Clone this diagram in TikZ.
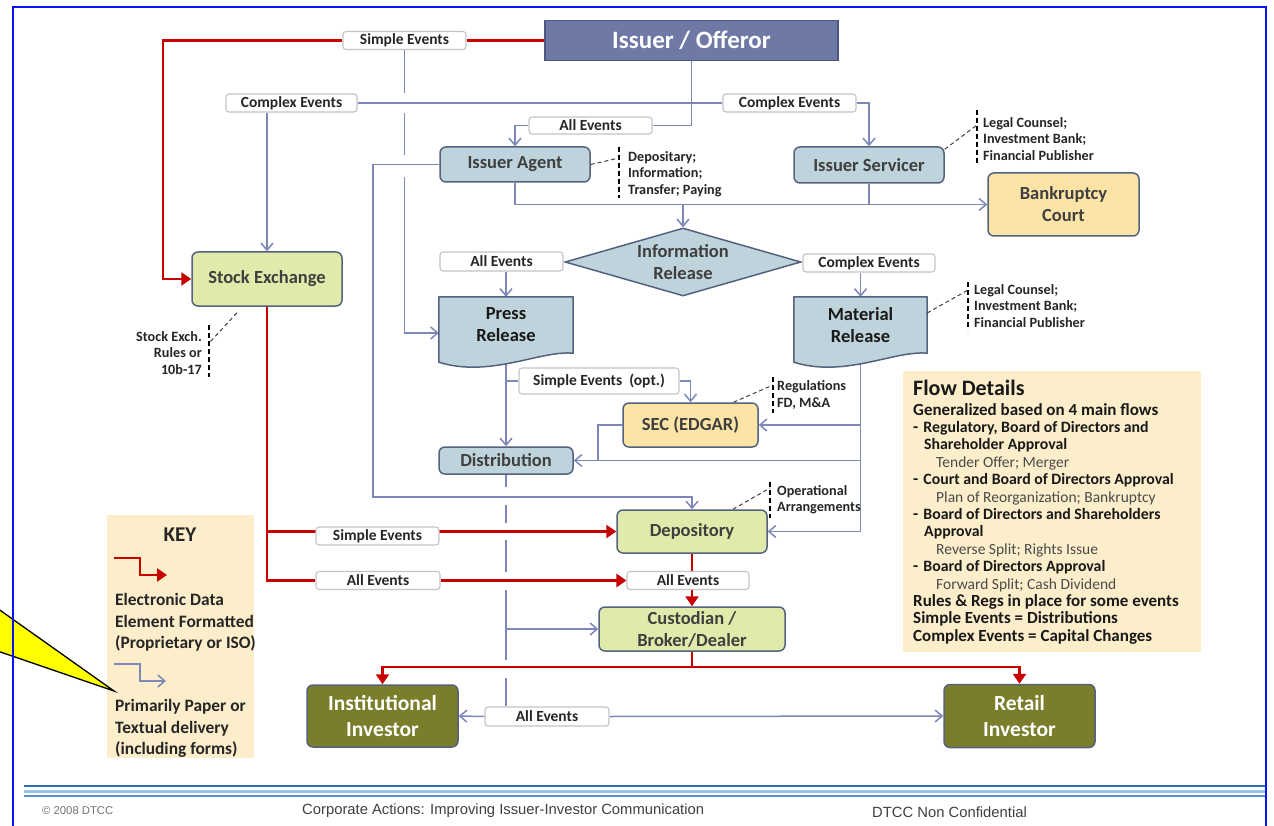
\documentclass[tikz,border=0pt]{standalone}
\usepackage{fontspec}
\setmainfont{Carlito}
\newfontfamily\footerfont{Liberation Sans}
\usetikzlibrary{arrows.meta,shapes.geometric,calc}
\newcommand\setfs[2]{\fontsize{#1}{#2}\selectfont}

\definecolor{issuerfill}{HTML}{6E79A6}
\definecolor{issuerdraw}{HTML}{4B5684}
\definecolor{paleblue}{HTML}{BED3DB}
\definecolor{palegreen}{HTML}{E2EAAB}
\definecolor{paleyellow}{HTML}{FBE4A6}
\definecolor{investorfill}{HTML}{7A7E2B}
\definecolor{boxdraw}{HTML}{55627F}
\definecolor{wireblue}{HTML}{7D87B9}
\definecolor{wirered}{HTML}{C80000}
\definecolor{panelfill}{HTML}{FDEECB}
\definecolor{labeldraw}{HTML}{C4C4C4}
\definecolor{txtgray}{HTML}{3F3F3F}
\definecolor{subgray}{HTML}{4A4A4A}
\definecolor{frameblue}{HTML}{0A14F0}
\definecolor{footdark}{HTML}{2E6DB4}
\definecolor{footlight}{HTML}{9CC2E5}
\definecolor{footmid}{HTML}{5B8FD0}
\definecolor{calloutyellow}{HTML}{FFFF00}

\pgfdeclarelayer{lowest}
\pgfdeclarelayer{gaps}
\pgfdeclarelayer{wires}
\pgfdeclarelayer{shapes}
\pgfsetlayers{lowest,gaps,wires,shapes,main}

\tikzset{
  flowbox/.style={draw=boxdraw, line width=1.5pt, rounded corners=6pt, align=center,
    inner sep=0pt, text=txtgray, font=\bfseries\setfs{18.5}{22}},
  bluebox/.style={flowbox, fill=paleblue},
  greenbox/.style={flowbox, fill=palegreen},
  yellowbox/.style={flowbox, fill=paleyellow},
  investor/.style={flowbox, fill=investorfill, text=white, font=\bfseries\setfs{21.5}{26}},
  docnode/.style={inner sep=0pt, align=center, text=black!90, font=\bfseries\setfs{18.5}{22}},
  docshape/.style={draw=boxdraw, line width=1.5pt, fill=paleblue, line join=round},
  tag/.style={draw=labeldraw, fill=white, line width=1.1pt, rounded corners=3pt,
    inner sep=0pt, text=black!85, font=\bfseries\setfs{15.5}{17}},
  remark/.style={inner sep=0pt, align=left, text=black!85, font=\bfseries\setfs{14.2}{16.5}},
  bracket/.style={black, line width=1.3pt, dash pattern=on 5pt off 3pt},
  notelink/.style={black!75, line width=1pt, dash pattern=on 4pt off 3pt},
  wire/.style={wireblue, line width=1.5pt},
  parrow/.style={wire, -{Straight Barb[length=7pt,width=12pt]}},
  eline/.style={wirered, line width=2.8pt},
  earrow/.style={eline, -{Triangle[length=10pt,width=13pt]}},
  panel/.style={fill=panelfill, inner sep=0pt},
}
% one bullet of the flow list, and the lighter example line under it
\newcommand\flowitem[1]{-\hspace*{5pt}{\setfs{15.8}{17.4}#1}}
\newcommand\flowcont[1]{\hspace*{11pt}{\setfs{15.8}{17.4}#1}}
\newcommand\flowsub[1]{\hspace*{23pt}{\mdseries\setfs{15.5}{17.4}\color{subgray}#1}}

\begin{document}
\begin{tikzpicture}[x=1pt,y=-1pt]
\useasboundingbox (0,0) rectangle (1274,826);
\begin{pgfonlayer}{lowest}
  \fill[white] (0,0) rectangle (1274,826);
\end{pgfonlayer}

% ---------- main boxes ----------
\node[draw=issuerdraw, fill=issuerfill, line width=1.5pt, minimum width=293pt, minimum height=40pt,
      inner sep=0pt, text=white, font=\bfseries\setfs{25}{28}] (issuer) at (691.5,40.5) {Issuer / Offeror};
\node[bluebox, minimum width=150pt, minimum height=35pt] (agent) at (515,164.5) {Issuer Agent};
\node[bluebox, minimum width=150pt, minimum height=36pt] (servicer) at (869,165) {Issuer Servicer};
\node[yellowbox, minimum width=151pt, minimum height=63pt] (court) at (1063.5,204.5) {Bankruptcy\\Court};
\node[flowbox, fill=paleblue, shape=diamond, aspect=3.5, sharp corners,
      minimum width=236pt, minimum height=68pt] (info) at (683,262) {Information\\Release};
\node[docnode, minimum width=134pt, minimum height=56pt] (press) at (506,325) {Press\\Release};
\node[docnode, minimum width=133pt, minimum height=56pt] (material) at (860.5,325) {Material\\Release};
\node[yellowbox, minimum width=135pt, minimum height=44pt] (sec) at (690.5,425) {SEC (EDGAR)};
\node[bluebox, minimum width=134pt, minimum height=27pt] (distrib) at (506,460.5) {Distribution};
\node[greenbox, minimum width=150pt, minimum height=43pt] (depository) at (692,531.5) {Depository};
\node[greenbox, minimum width=150pt, minimum height=54pt] (stock) at (267,279) {Stock Exchange};
\node[greenbox, minimum width=186pt, minimum height=44pt] (custodian) at (692,629) {Custodian /\\Broker/Dealer};
\node[investor, minimum width=151pt, minimum height=62pt] (inst) at (382.5,716) {Institutional\\Investor};
\node[investor, minimum width=151pt, minimum height=63pt] (retail) at (1019.5,716) {Retail\\Investor};

% document shapes for the two release boxes
\begin{pgfonlayer}{shapes}
  \foreach \d in {press,material}
    \draw[docshape] (\d.north west) -- (\d.north east) -- (\d.south east)
      .. controls +(-33,-3) and +(51,16) .. ([yshift=-9pt]\d.south west) -- cycle;
\end{pgfonlayer}

% ---------- event labels ----------
\node[tag, minimum width=123pt, minimum height=18pt] (tSimpleTop) at (404.5,40.5) {Simple Events};
\node[tag, minimum width=131pt, minimum height=18pt] (tComplexL) at (291.5,103) {Complex Events};
\node[tag, minimum width=133pt, minimum height=18pt] (tComplexR) at (789.5,103) {Complex Events};
\node[tag, minimum width=123pt, minimum height=17pt] (tAllTop) at (590.5,125.5) {All Events};
\node[tag, minimum width=123pt, minimum height=19pt] (tAllInfo) at (501.5,261.5) {All Events};
\node[tag, minimum width=132pt, minimum height=18pt] (tComplexInfo) at (869,263) {Complex Events};
\node[tag, minimum width=160pt, minimum height=26pt] (tSimpleOpt) at (599,381) {Simple Events~~(opt.)};
\node[tag, minimum width=123pt, minimum height=18pt] (tSimpleDep) at (377.5,536) {Simple Events};
\node[tag, minimum width=124pt, minimum height=18pt] (tAllDep) at (378,580.5) {All Events};
\node[tag, minimum width=122pt, minimum height=18pt] (tAllCust) at (688,580.5) {All Events};
\node[tag, minimum width=124pt, minimum height=19pt] (tAllBottom) at (547,716.5) {All Events};

% ---------- side remarks ----------
\node[remark, anchor=west] (nAgent) at (628,174) {Depositary;\\Information;\\Transfer; Paying};
\node[remark, anchor=west] (nServicer) at (983,139) {Legal Counsel;\\Investment Bank;\\Financial Publisher};
\node[remark, anchor=west] (nMaterial) at (974,306) {Legal Counsel;\\Investment Bank;\\Financial Publisher};
\node[remark, anchor=west] (nSec) at (777,395) {Regulations\\FD, M\&A};
\node[remark, anchor=west] (nDep) at (777,499.5) {Operational\\Arrangements};
\node[remark, anchor=east, align=right] (nStock) at (202,353) {Stock Exch.\\Rules or\\10b-17};

\coordinate (bAgentT) at (619,147);   \coordinate (bAgentB) at (619,198);   \coordinate (bAgentL) at (619,158);
\coordinate (bServT) at (977,110);    \coordinate (bServB) at (977,163);    \coordinate (bServL) at (977,125);
\coordinate (bMatT) at (968,282);     \coordinate (bMatB) at (968,330);     \coordinate (bMatL) at (968,290);
\coordinate (bSecT) at (773,377);     \coordinate (bSecB) at (773,413);     \coordinate (bSecL) at (773,385);
\coordinate (bDepT) at (770,482);     \coordinate (bDepB) at (770,518);     \coordinate (bDepL) at (770,488);
\coordinate (bStkT) at (209,325);     \coordinate (bStkB) at (209,377);     \coordinate (bStkL) at (210,342);

\draw[bracket] (bAgentT) -- (bAgentB);
\draw[bracket] (bServT) -- (bServB);
\draw[bracket] (bMatT) -- (bMatB);
\draw[bracket] (bSecT) -- (bSecB);
\draw[bracket] (bDepT) -- (bDepB);
\draw[bracket] (bStkT) -- (bStkB);
\draw[notelink] (agent.east) -- (bAgentL);
\draw[notelink] ([yshift=-3pt]servicer.north east) -- (bServL);
\draw[notelink] ([yshift=12pt]material.east) -- (bMatL);
\draw[notelink] ([xshift=43pt]sec.north) -- (bSecL);
\draw[notelink] ([xshift=41pt]depository.north) -- (bDepL);
\draw[notelink] ([xshift=-30pt,yshift=-6pt]stock.south) -- (bStkL);

% ---------- connectors ----------
\coordinate (redTurn) at (163,0);
\coordinate (redBus) at (0,667);
\coordinate (loopL) at (373,497);
\coordinate (secDrop) at (598,0);
\coordinate (pressIn) at (405,333);

% lines that pass under crossings, with their breaks
\begin{pgfonlayer}{lowest}
  \draw[parrow] (tSimpleTop.south) |- (press.west |- pressIn);
  \draw[wire] (distrib.south) -- (distrib.south |- tAllBottom.north);
\end{pgfonlayer}
\begin{pgfonlayer}{gaps}
  \fill[white] (400,93) rectangle (410,113);
  \fill[white] (400,155) rectangle (410,177);
  \fill[white] (501,487) rectangle (511,505);
  \fill[white] (501,523) rectangle (511,540);
  \fill[white] (501,572) rectangle (511,590);
  \fill[white] (501,660) rectangle (511,678);
\end{pgfonlayer}

\begin{pgfonlayer}{wires}
  % electronic data flows
  \draw[eline] (issuer.west) -- (tSimpleTop.east);
  \draw[earrow] (tSimpleTop.west) -| (redTurn |- stock.west) -- (stock.west);
  \draw[eline] (stock.south) |- (tAllDep.west);
  \draw[earrow] (stock.south |- depository.west) -- (depository.west);
  \draw[earrow] (tAllDep.east) -- (tAllCust.west);
  \draw[eline] (depository.south) -- (depository.south |- tAllCust.north);
  \draw[earrow] (depository.south |- tAllCust.south) -- (custodian.north);
  \draw[eline] (custodian.south) -- (custodian.south |- redBus);
  \draw[earrow] (custodian.south |- redBus) -| (inst.north);
  \draw[earrow] (custodian.south |- redBus) -| (retail.north);

  % paper / textual flows
  \draw[wire] (tComplexL.east) -- (tComplexR.west);
  \draw[wire] (issuer.south) |- (tAllTop.east);
  \draw[parrow] (tAllTop.west) -| (agent.north);
  \draw[parrow] (tComplexR.east) -| (servicer.north);
  \draw[parrow] (stock.north |- tComplexL.south) -- (stock.north);
  \draw[parrow] (agent.south) |- (court.west);
  \draw[wire] (servicer.south) -- (servicer.south |- court.west);
  \draw[parrow] (info.north |- court.west) -- (info.north);
  \draw[parrow] (press.north |- tAllInfo.south) -- (press.north);
  \draw[parrow] (material.north |- tComplexInfo.south) -- (material.north);
  \draw[parrow] (press.south) -- (distrib.north);
  \draw[wire] (press.south |- tSimpleOpt.west) -- (tSimpleOpt.west);
  \draw[parrow] (tSimpleOpt.east) -| (sec.north);
  \draw[wire] (sec.west) -| (secDrop |- distrib.east);
  \draw[wire] (material.south) -- (material.south |- depository.east);
  \draw[parrow] (material.south |- sec.east) -- (sec.east);
  \draw[parrow] (material.south |- distrib.east) -- (distrib.east);
  \draw[parrow] (material.south |- depository.east) -- (depository.east);
  \draw[parrow] (agent.west) -| (loopL) -| (depository.north);
  \draw[parrow] (distrib.south |- custodian.west) -- (custodian.west);
  \draw[parrow] (tAllBottom.west) -- (inst.east);
  \draw[parrow] (tAllBottom.east) -- (retail.west);
\end{pgfonlayer}

% ---------- key ----------
\node[panel, minimum width=147pt, minimum height=243pt] (keypanel) at (180.5,636) {};
\node[inner sep=0pt, font=\bfseries\setfs{21}{24}, text=black!85] (keytitle) at (180,535) {KEY};
\coordinate (kr1) at (114,558); \coordinate (kr2) at (140,558); \coordinate (kr3) at (140,575); \coordinate (kr4) at (167,575);
\draw[earrow] (kr1) -- (kr2) -- (kr3) -- (kr4);
\node[remark, anchor=west, font=\bfseries\setfs{17.4}{21.3}] (keyE) at (115,622.5)
  {Electronic Data\\Element Formatted\\(Proprietary or ISO)};
\coordinate (kb1) at (114,664); \coordinate (kb2) at (140,664); \coordinate (kb3) at (140,681); \coordinate (kb4) at (166,681);
\draw[parrow] (kb1) -- (kb2) -- (kb3) -- (kb4);
\node[remark, anchor=west, font=\bfseries\setfs{17.4}{21.3}] (keyP) at (115,728.5)
  {Primarily Paper or\\Textual delivery\\(including forms)};

% ---------- flow details ----------
\node[panel, minimum width=298pt, minimum height=281pt] (flowpanel) at (1052,511.5) {};
\node[anchor=base west, inner sep=0pt, font=\bfseries\setfs{22}{24}, text=black!90] (flowtitle) at (913,395.5) {Flow Details};
\node[anchor=north west, inner sep=0pt, align=left, text=black!90, font=\bfseries\setfs{17}{17.4}] (flowbody) at (913,403)
  {Generalized based on 4 main flows\\
   \flowitem{Regulatory, Board of Directors and}\\
   \flowcont{Shareholder Approval}\\
   \flowsub{Tender Offer; Merger}\\
   \flowitem{Court and Board of Directors Approval}\\
   \flowsub{Plan of Reorganization; Bankruptcy}\\
   \flowitem{Board of Directors and Shareholders}\\
   \flowcont{Approval}\\
   \flowsub{Reverse Split; Rights Issue}\\
   \flowitem{Board of Directors Approval}\\
   \flowsub{Forward Split; Cash Dividend}\\
   Rules \& Regs in place for some events\\
   Simple Events = Distributions\\
   Complex Events = Capital Changes};

% ---------- footer ----------
\coordinate (fl1) at (24,786);   \coordinate (fr1) at (1266,786);
\coordinate (fl2) at (24,791.5); \coordinate (fr2) at (1266,791.5);
\coordinate (fl3) at (24,796);   \coordinate (fr3) at (1266,796);
\draw[footdark, line width=1.8pt] (fl1) -- (fr1);
\draw[footlight, line width=2.4pt] (fl2) -- (fr2);
\draw[footmid, line width=1.2pt] (fl3) -- (fr3);
\node[anchor=west, inner sep=0pt, font=\footerfont\setfs{11.3}{13}, text=black!55] (fcopy) at (42,811) {© 2008 DTCC};
\node[anchor=west, inner sep=0pt, font=\footerfont\setfs{14.8}{17}, text=black!75] (ftitle) at (302,811)
  {Corporate Actions: Improving Issuer-Investor Communication};
\node[anchor=west, inner sep=0pt, font=\footerfont\setfs{14.8}{17}, text=black!75] (fconf) at (872,812) {DTCC Non Confidential};

% ---------- callout pointer and frame ----------
\coordinate (cTop) at (-20,596); \coordinate (cTip) at (114,691); \coordinate (cBot) at (-20,645);
\fill[calloutyellow] (cTop) -- (cTip) -- (cBot) -- cycle;
\draw[black, line width=1.3pt, line join=miter] (cTop) -- (cTip) -- (cBot);
\coordinate (frBL) at (13,830); \coordinate (frTL) at (13,7); \coordinate (frTR) at (1266,7); \coordinate (frBR) at (1266,830);
\draw[frameblue, line width=2.4pt] (frBL) -- (frTL) -- (frTR) -- (frBR);
\end{tikzpicture}
\end{document}
